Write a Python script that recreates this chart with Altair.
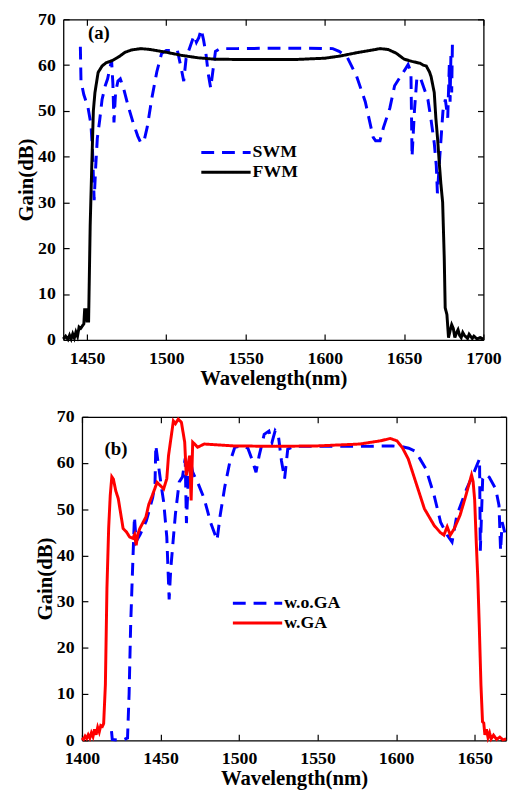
import altair as alt
import pandas as pd

FONT = "Liberation Serif"

# ---------------- panel (a) ----------------
swm_wl = [1445.8, 1446.2, 1448, 1450.5, 1452.5, 1453.5, 1454.5, 1455.5, 1456.5, 1458, 1459.5, 1461.5, 1463,
          1464.5, 1465.5, 1466.3, 1467, 1468, 1469.5, 1471, 1473, 1476, 1479, 1482, 1484, 1486, 1488, 1491,
          1494, 1497, 1500, 1504, 1507, 1509, 1511, 1512.5, 1514, 1516, 1517.5, 1519, 1520.5, 1522, 1523.5,
          1525, 1526.5, 1528, 1529.5, 1531, 1534, 1545, 1570, 1590, 1605, 1609, 1614, 1620, 1625.5, 1630.5,
          1632, 1634.8, 1637, 1641, 1644, 1649.4, 1652.5, 1654.3, 1655, 1656.5, 1658, 1660, 1662.5, 1665,
          1667, 1669, 1670.3, 1671, 1672.5, 1674.5, 1676, 1677.5, 1678.5, 1679, 1679.5, 1680, 1680.5]
swm_gain = [64, 56.5, 53.5, 51, 47, 41, 30.5, 38, 44, 48, 52.5, 55.5, 57,
            59.5, 61, 56, 47.5, 54, 56.5, 57, 55, 51, 47.5, 44.5, 43, 43.5, 46.5, 53,
            58.5, 62.5, 63.2, 63.2, 63.2, 60, 56.5, 61.5, 63, 65, 66.5, 65, 66, 67.8, 65.5,
            62.5, 58, 55, 59, 63, 63.6, 63.6, 63.7, 63.7, 63.6, 63, 61.8, 57.6, 52, 44.2,
            43.5, 43.5, 46.4, 50.6, 55.5, 58.4, 60.1, 58.5, 40, 50, 57, 57.5, 55, 52.5,
            48, 43, 38, 32, 40, 50, 52.5, 48.5, 60, 52, 62, 54, 65.5]

fwm_wl = [1435, 1436.5, 1438, 1439, 1440, 1441, 1442, 1443, 1444, 1445, 1446, 1447, 1448, 1448.5, 1449.5,
          1450, 1451, 1452, 1453, 1454, 1455, 1457, 1459.5, 1462, 1466, 1470, 1474, 1478, 1484, 1490,
          1500, 1510, 1520, 1530, 1550, 1580, 1600, 1610, 1620, 1630, 1635, 1640, 1645, 1650, 1655,
          1660, 1662, 1664, 1666, 1667, 1669, 1670, 1671.2, 1672.2, 1673.2, 1674.3, 1675.3, 1675.9,
          1677, 1678, 1679, 1680, 1681, 1682, 1683, 1684, 1685, 1686, 1687, 1688, 1690, 1691, 1693,
          1694, 1696, 1698, 1700]
fwm_gain = [0.2, 0.8, 0.1, 1.0, 0.2, 1.3, 0.4, 1.7, 0.8, 2.8, 2.5, 3.0, 3.5, 6.6, 6.6,
            4.1, 4.1, 25, 38, 50, 54, 58.4, 59.8, 60.5, 61, 61.8, 62.8, 63.3, 63.6, 63.4,
            62.8, 62.1, 61.6, 61.3, 61.2, 61.2, 61.5, 62.0, 62.7, 63.3, 63.6, 63.4, 62.6, 61.3, 60.8,
            60.4, 60, 59.8, 58.5, 57.5, 54, 48.5, 43.5, 38.5, 34, 30, 18, 7,
            5.5, 0.5, 2, 3.3, 2.5, 0.5, 1.5, 2.2, 1, 0.5, 1.6, 1, 0.3, 1.2, 0.3,
            0.8, 0.2, 0.5, 0.1]

# ---------------- panel (b) ----------------
woga_wl = [1418.8, 1419.3, 1423, 1427, 1429, 1430, 1431, 1432, 1433.4, 1434.5, 1437, 1441, 1445, 1446.5,
           1447, 1448.5, 1450.5, 1452, 1454, 1455.5, 1456.5, 1457.5, 1459.5, 1461.9, 1464, 1465.7, 1466.5,
           1467.5, 1468.5, 1470.5, 1474, 1477.8, 1482, 1486, 1488, 1491, 1494, 1497.3, 1502, 1505.6, 1508,
           1510.8, 1512.8, 1514.5, 1516, 1519, 1521, 1523, 1525, 1527, 1529, 1531, 1535, 1560, 1580,
           1597.5, 1604, 1608, 1611.8, 1615, 1619, 1624.2, 1628.3, 1632.5, 1635.6, 1638.7, 1644.9, 1649,
           1653.1, 1653.6, 1655.1, 1657, 1659.3, 1663.4, 1665.5, 1666.5, 1667.5, 1669.6]
woga_gain = [2, 0.2, 0, 0.2, 0.5, 10, 25, 35, 48.4, 43, 44.5, 47.5, 52.5, 55.5,
             63.8, 60, 55, 51.6, 44, 30.5, 37, 41, 49, 55.9, 57, 61, 47,
             55, 61.5, 58, 55.5, 52.3, 47, 43.3, 48.7, 55, 60, 63.4, 63.7, 63.2, 61,
             58, 61.6, 64, 66.2, 66.9, 64.5, 67, 66, 60.5, 56.6, 63, 63.6, 63.6, 63.6,
             63.7, 63.5, 63.2, 62.6, 61, 58.7, 53, 47.2, 44.4, 42.9, 48.7, 54.4, 57.5,
             60.9, 41, 56.6, 57.5, 56.9, 54.4, 50.8, 41, 47.2, 44.4]

wga_wl = [1400, 1401, 1402, 1403, 1404, 1405, 1406, 1407, 1408, 1409, 1410, 1411, 1412, 1413, 1413.8,
          1414.9, 1415.9, 1417, 1418, 1419, 1420, 1421.5, 1423.1, 1426.2, 1428.3, 1430.3, 1432.4, 1433.5,
          1434.5, 1435.5, 1436.8, 1440.7, 1442.5, 1444.8, 1447.8, 1449.9, 1452, 1454, 1455.1, 1456.5,
          1458.2, 1459.5, 1461.3, 1463.3, 1465.4, 1466.4, 1467.5, 1468.5, 1469.5, 1470.5, 1472, 1473.6,
          1477.8, 1496.3, 1523, 1550, 1576.8, 1590, 1596.3, 1600.5, 1604, 1607.7, 1611.8, 1618, 1624.2,
          1628, 1630.4, 1632.5, 1634.5, 1637, 1640.7, 1644, 1648, 1649, 1650, 1651, 1652, 1653, 1654,
          1655, 1655.8, 1656.5, 1657.5, 1658.5, 1659.5, 1660.5, 1662, 1664, 1666, 1668, 1670]
wga_gain = [0.5, 0.2, 0.9, 0.4, 1.2, 0.5, 1.6, 0.8, 2.4, 1.2, 2.8, 1.8, 3.2, 3.0, 3.6,
            12, 33, 46, 53, 57, 56.5, 54, 52.3, 45.8, 45.1, 44, 43.7, 44.5,
            42.2, 44.5, 45.8, 48.3, 51, 53, 55.8, 55.1, 54.4, 56.6, 61.6, 65,
            69.1, 68.5, 69.5, 68.8, 64.5, 57.3, 59.4, 61.6, 51.9, 64.5, 64, 63.4,
            64.1, 63.7, 63.6, 63.7, 64.1, 64.8, 65.3, 64.8, 63.3, 60.9, 56.6, 50.1, 46.5,
            45, 44.4, 46.2, 44.4, 45.8, 48.7, 52.5, 57.4, 56, 52, 43, 35, 24, 12,
            4, 3.7, 1.2, 2.4, 0.6, 1.6, 0.3, 1.1, 0.2, 0.7, 0.1, 0.3]

gain_ticks = [0, 10, 20, 30, 40, 50, 60, 70]
ticks_a = [1450, 1500, 1550, 1600, 1650, 1700]
ticks_b = [1400, 1450, 1500, 1550, 1600, 1650]

TICK = {"expr": "-6"}


def panel(dash_name, dwl, dg, solid_name, swl, sg, solid_color, xdomain, xticks,
          lead, plot_w, h, lx, ly, tag, tag_x, tag_y):
    # lead: how far (px) the plot frame starts left of the panel's group origin
    df = pd.DataFrame({
        "wl": dwl + swl,
        "gain": dg + sg,
        "series": [dash_name] * len(dwl) + [solid_name] * len(swl),
        "idx": list(range(len(dwl))) + list(range(len(swl))),
    })
    order = [dash_name, solid_name]
    w = plot_w - lead
    xs = alt.Scale(domain=xdomain, nice=False, zero=False, range=[-lead, w])
    ys = alt.Scale(domain=[0, 70], nice=False)
    leg = alt.Legend(title=None, orient="none", legendX=lx, legendY=ly, symbolType="M-5,0H5",
                     symbolSize=100, symbolStrokeWidth=3, labelFont=FONT, labelFontSize=18,
                     labelFontWeight="bold", labelColor="black", padding=0, rowPadding=2,
                     labelOffset=18)
    color = alt.Color("series:N", scale=alt.Scale(domain=order, range=["#0000ff", solid_color]), legend=leg)
    dash = alt.StrokeDash("series:N", scale=alt.Scale(domain=order, range=[[13, 8], [1, 0]]), legend=leg)
    xaxis = alt.Axis(values=xticks, title="Wavelength(nm)", format="d", tickSize=TICK,
                     labelPadding=16, titlePadding=0, labelFlush=False)
    yaxis = alt.Axis(values=gain_ticks, title="Gain(dB)", tickSize=TICK, labelPadding=14,
                     titlePadding=1, offset=lead, labelFlush=False)
    base = alt.Chart(df)
    dashed = base.transform_filter(alt.datum.series == dash_name).mark_line(strokeWidth=3).encode(
        x=alt.X("wl:Q", scale=xs, axis=xaxis),
        y=alt.Y("gain:Q", scale=ys, axis=yaxis),
        color=color, strokeDash=dash, order="idx:Q")
    solid = base.transform_filter(alt.datum.series == solid_name).mark_line(strokeWidth=3).encode(
        x=alt.X("wl:Q", scale=xs, axis=None),
        y=alt.Y("gain:Q", scale=ys, axis=None),
        color=color, strokeDash=dash, order="idx:Q")
    mirror = base.mark_line(opacity=0).encode(
        x=alt.X("wl:Q", scale=xs, axis=alt.Axis(orient="top", values=xticks, labels=False, title=None,
                                                 tickSize=TICK)),
        y=alt.Y("gain:Q", scale=ys, axis=alt.Axis(orient="right", values=gain_ticks, labels=False,
                                                   title=None, tickSize=TICK)),
        order="idx:Q")
    tagc = alt.Chart(pd.DataFrame({"wl": [tag_x], "gain": [tag_y], "t": [tag]})).mark_text(
        font=FONT, fontSize=19, fontWeight="bold", color="black").encode(
        x=alt.X("wl:Q", scale=xs, axis=None), y=alt.Y("gain:Q", scale=ys, axis=None), text="t:N")
    return alt.layer(dashed, solid, tagc, mirror).resolve_axis(
        x="independent", y="independent").properties(width=w, height=h)


top = panel("SWM", swm_wl, swm_gain, "FWM", fwm_wl, fwm_gain, "#000000", [1435, 1700], ticks_a,
            19, 426, 325, 137, 126, "(a)", 1457.5, 67)
bottom = panel("w.o.GA", woga_wl, woga_gain, "w.GA", wga_wl, wga_gain, "#ff0000", [1400, 1670], ticks_b,
               0, 430, 328, 169, 180, "(b)", 1421.7, 63)

chart = alt.concat(top, bottom, columns=1, spacing=20).properties(
    padding={"left": 8, "top": -3, "right": 0, "bottom": 0}
).resolve_scale(color="independent", strokeDash="independent").configure_view(
    stroke="transparent", strokeWidth=0
).configure_axis(
    labelFont=FONT, labelFontSize=18, labelFontWeight="bold", labelColor="black",
    titleFont=FONT, titleFontSize=21, titleFontWeight="bold", titleColor="black",
    tickColor="black", tickWidth=1.2, grid=False, domain=True, domainColor="black", domainWidth=1.3
)

chart.save("out.html", embed_options={"renderer": "svg", "actions": False})
